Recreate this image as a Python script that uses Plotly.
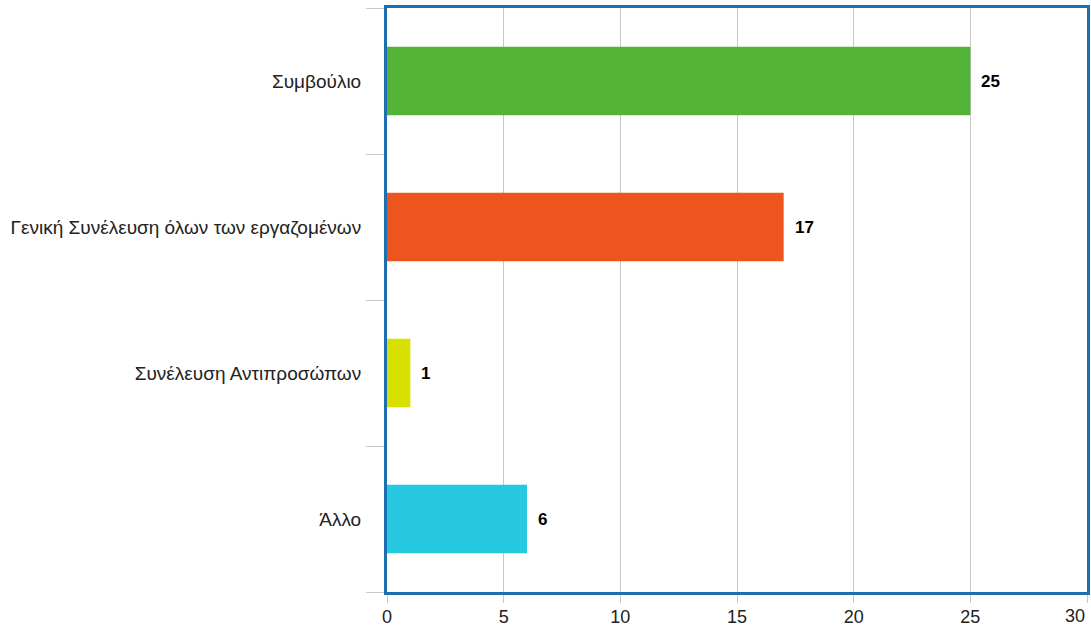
import plotly.graph_objects as go

categories = ["Συμβούλιο", "Γενική Συνέλευση όλων των εργαζομένων", "Συνέλευση Αντιπροσώπων", "Άλλο"]
values = [25, 17, 1, 6]
colors = ["#52b336", "#ec561e", "#d7e000", "#27c9e2"]
x_ticks = [0, 5, 10, 15, 20, 25, 30]
x_tick_labels = ["0", "5", "10", "15", "20", "25", "30"]

FONT = "Liberation Sans, Arial, sans-serif"

fig = go.Figure()
fig.add_trace(go.Bar(
    y=categories, x=values, orientation="h",
    marker=dict(color=colors, line=dict(width=0)),
    width=0.47, showlegend=False, hoverinfo="skip",
))

for c, v in zip(categories, values):
    fig.add_annotation(x=v, y=c, text=f"<b>{v}</b>", showarrow=False,
                       xanchor="left", xshift=9,
                       font=dict(family=FONT, size=17, color="#000000"))

# last x tick label sits right-aligned at the frame edge (as in the reference)
fig.add_annotation(x=x_ticks[-1], y=0, xref="x", yref="paper", text=x_tick_labels[-1],
                   showarrow=False, xanchor="right", yanchor="middle", yshift=-24,
                   font=dict(family=FONT, size=18, color="#222222"))

fig.update_layout(
    width=1091, height=627,
    margin=dict(l=387, r=4, t=8, b=35),
    paper_bgcolor="white", plot_bgcolor="white",
    font=dict(family=FONT, size=19, color="#222222"),
    bargap=0.5,
)
fig.update_xaxes(
    range=[0, 30], tickvals=x_ticks, ticktext=x_tick_labels[:-1] + [""],
    showgrid=True, gridcolor="#c8c8c8", gridwidth=1,
    zeroline=False, ticks="outside", ticklen=8, tickcolor="#c8c8c8",
    showline=True, linecolor="#1d6fb0", linewidth=3, mirror=True,
    tickfont=dict(family=FONT, size=18, color="#222222"), automargin=False,
    ticklabelstandoff=-2,
)
fig.update_yaxes(
    categoryorder="array", categoryarray=categories[::-1],
    ticks="outside", tickson="boundaries", ticklen=18, tickcolor="#c8c8c8",
    showgrid=False, showline=True, linecolor="#1d6fb0", linewidth=3, mirror=True,
    tickfont=dict(family=FONT, size=19, color="#222222"), automargin=False,
    ticklabelstandoff=19,
)

fig.write_html("out.html", config={"displayModeBar": False},
               post_script="document.body.style.margin='0';document.body.style.overflow='hidden';")
